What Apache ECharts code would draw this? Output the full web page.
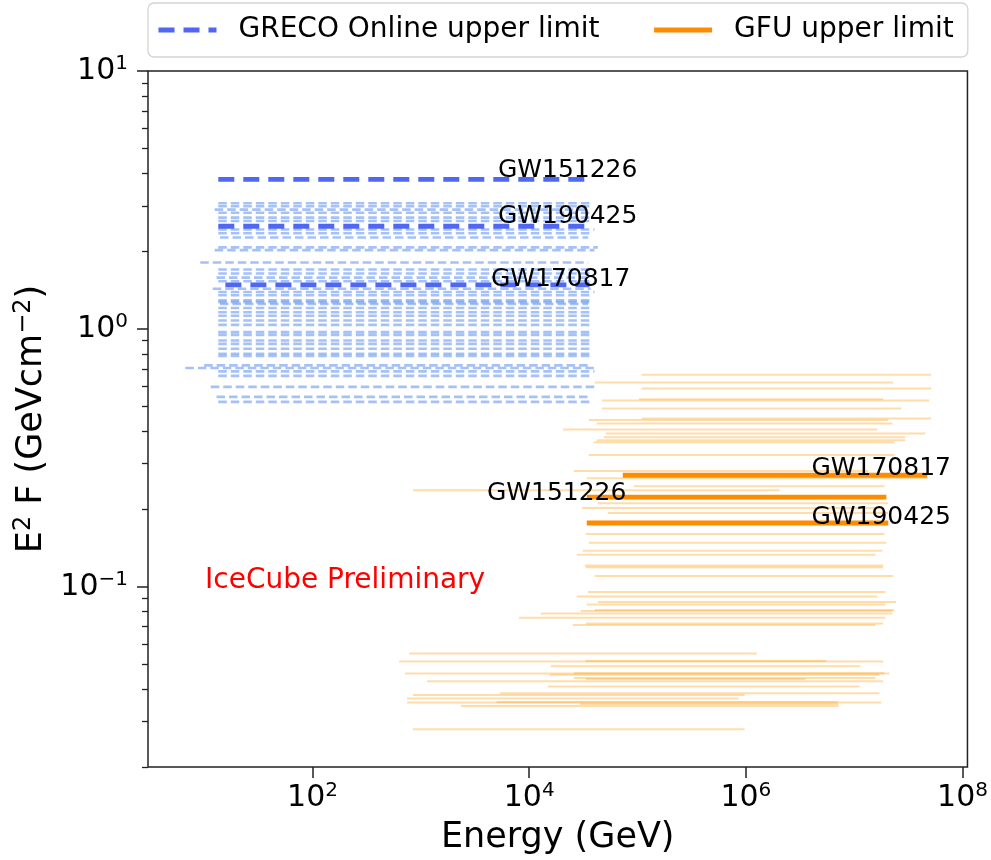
<!DOCTYPE html>
<html>
<head>
<meta charset="utf-8">
<script src="https://cdn.jsdelivr.net/npm/echarts@6/dist/echarts.min.js"></script>
<style>
  html, body { margin: 0; padding: 0; background: #ffffff; }
  #chart { width: 991px; height: 860px; }
</style>
</head>
<body>
<div id="chart"></div>
<script>
// Axis ranges and tick values
const energyRange = [3.03, 1.11e8];
const fluxRange = [0.02, 10];
const energyTicks = [1e2, 1e4, 1e6, 1e8];
const fluxTicks = [0.1, 1, 10];
const fluxMinorTicks = [0.02, 0.03, 0.04, 0.05, 0.06, 0.07, 0.08, 0.09,
                        0.2, 0.3, 0.4, 0.5, 0.6, 0.7, 0.8, 0.9,
                        2, 3, 4, 5, 6, 7, 8, 9];

// GRECO Online upper limits, one row per event: [E²F, Emin (GeV), Emax (GeV)]
const grecoRows = [
  [3.07, 13.5, 36000], [2.99, 13.5, 38000], [2.90, 12.5, 36000], [2.82, 13.5, 36000],
  [2.70, 13.5, 37000], [2.62, 13.5, 36000], [2.43, 13.5, 40000], [2.35, 13.5, 36000],
  [2.26, 14, 35000], [2.07, 13.5, 43000], [2.02, 12.5, 40000], [1.81, 9.2, 35000],
  [1.70, 13.5, 36000], [1.64, 13.5, 38000], [1.58, 13, 36000], [1.53, 13.5, 36000],
  [1.43, 12, 37000], [1.39, 13.5, 40000], [1.35, 13.5, 36000], [1.29, 13.5, 38000],
  [1.27, 13.5, 36000], [1.25, 14, 35000], [1.205, 13.5, 36000], [1.16, 13.5, 37000],
  [1.125, 13.5, 36000], [1.077, 13.5, 36000], [1.036, 13.5, 38000], [0.971, 13.5, 36000],
  [0.948, 13.5, 36000], [0.901, 13.5, 37000], [0.875, 13.5, 36000], [0.837, 13.5, 36000],
  [0.801, 13.5, 38000], [0.785, 13.5, 36000], [0.722, 10, 36000], [0.705, 6.7, 43000],
  [0.684, 13.5, 40000], [0.657, 13.5, 36000], [0.596, 11.5, 40000], [0.545, 13, 36000],
  [0.521, 13.5, 36000]
];

// GFU upper limits, one row per event: [E²F, Emin (GeV), Emax (GeV)]
const gfuRows = [
  [0.664, 1.09e5, 5.13e7], [0.619, 4.03e4, 2.29e7], [0.587, 1.09e5, 5.13e7], [0.533, 1.03e5, 1.85e7],
  [0.527, 4.68e4, 4.92e7], [0.491, 4.68e4, 2.72e7], [0.449, 1.09e5, 5.13e7], [0.443, 3.55e4, 2.06e7],
  [0.430, 4.20e4, 2.25e7], [0.407, 2.05e4, 1.63e7], [0.393, 5.09e4, 4.52e7], [0.380, 4.88e4, 2.96e7],
  [0.370, 4.20e4, 2.96e7], [0.363, 3.94e4, 2.34e7], [0.324, 3.55e4, 2.34e7], [0.281, 2.58e4, 1.35e7],
  [0.2635, 3.40e4, 4.72e7], [0.2455, 9.23e4, 1.90e7], [0.2368, 847, 2.05e6], [0.211, 4.30e4, 2.06e7],
  [0.2018, 3.06e4, 1.90e7], [0.193, 5.31e4, 2.06e7], [0.160, 3.33e4, 1.90e7], [0.148, 3.55e4, 1.98e7],
  [0.138, 3.12e4, 1.82e7], [0.133, 2.75e4, 1.57e7], [0.121, 3.26e4, 1.85e7], [0.119, 3.33e4, 1.85e7],
  [0.110, 4.03e4, 2.29e7], [0.0954, 3.48e4, 1.94e7], [0.0917, 2.75e4, 1.63e7], [0.0873, 4.30e4, 2.44e7],
  [0.0854, 3.40e4, 1.94e7], [0.0813, 4.03e4, 2.34e7], [0.0806, 2.99e4, 2.25e7], [0.0788, 1.28e4, 2.25e7],
  [0.0759, 8.04e3, 1.94e7], [0.0720, 3.33e4, 1.85e7], [0.0711, 2.53e4, 1.57e7],
  [0.0551, 779, 1.26e6], [0.0513, 630, 1.85e7], [0.0515, 3.3e4, 5.5e6], [0.0492, 1.58e4, 1.14e7],
  [0.0461, 715, 2.11e7], [0.0462, 2.6e4, 1.9e7], [0.0456, 1.55e4, 1.71e7], [0.0443, 2.58e4, 1.57e7],
  [0.0439, 3.33e4, 3.55e6], [0.0430, 1140, 1.85e7], [0.0410, 1.49e4, 1.12e7], [0.0386, 5370, 1.71e7],
  [0.0380, 847, 9.73e5], [0.0369, 746, 8.57e5], [0.0356, 746, 1.78e7], [0.0357, 5000, 7.0e6],
  [0.0351, 2.93e4, 7.15e6], [0.0345, 2340, 7.15e6], [0.0280, 847, 9.73e5]
];

// Highlighted gravitational-wave events
const grecoEventNames = ['GW151226', 'GW190425', 'GW170817'];
const grecoEventFlux = [3.8, 2.5, 1.48];
const grecoEventEmin = [13.5, 13.5, 15.7];
const grecoEventEmax = [36000, 36000, 36000];
const grecoLabelE = [5140, 5140, 4430];
const grecoLabelFlux = [4.11, 2.73, 1.56];

const gfuEventNames = ['GW170817', 'GW151226', 'GW190425'];
const gfuEventFlux = [0.2706, 0.2226, 0.1767];
const gfuEventEmin = [7.31e4, 3.4e4, 3.4e4];
const gfuEventEmax = [4.72e7, 1.98e7, 2.06e7];
const gfuLabelE = [4.03e6, 4070, 4.03e6];
const gfuLabelFlux = [0.288, 0.2307, 0.186];

const GRECO_NAME = 'GRECO Online upper limit';
const GFU_NAME = 'GFU upper limit';
const GRECO_COLOR = '#4f67f2';
const GFU_COLOR = '#ff8c00';
const FONT = 'DejaVu Sans';

const series = [];

grecoRows.forEach(function (r) {
  series.push({
    type: 'line', silent: true, symbol: 'none', z: 2,
    data: [[r[1], r[0]], [r[2], r[0]]],
    lineStyle: { color: '#6495ED', width: 2.6, type: [8.5, 4], opacity: 0.58 }
  });
});

gfuRows.forEach(function (r) {
  series.push({
    type: 'line', silent: true, symbol: 'none', z: 2,
    data: [[r[1], r[0]], [r[2], r[0]]],
    lineStyle: { color: '#ffa31a', width: 2, opacity: 0.37 }
  });
});

grecoEventNames.forEach(function (n, i) {
  series.push({
    name: GRECO_NAME, type: 'line', symbol: 'none', z: 3,
    data: [[grecoEventEmin[i], grecoEventFlux[i]], [grecoEventEmax[i], grecoEventFlux[i]]],
    itemStyle: { color: GRECO_COLOR },
    lineStyle: { color: GRECO_COLOR, width: 4.8, type: [16, 9] }
  });
});

gfuEventNames.forEach(function (n, i) {
  series.push({
    name: GFU_NAME, type: 'line', symbol: 'none', z: 3,
    data: [[gfuEventEmin[i], gfuEventFlux[i]], [gfuEventEmax[i], gfuEventFlux[i]]],
    itemStyle: { color: GFU_COLOR },
    lineStyle: { color: GFU_COLOR, width: 4.8 }
  });
});

// Event name labels placed in data coordinates
const labelData = [];
grecoEventNames.forEach(function (n, i) { labelData.push([grecoLabelE[i], grecoLabelFlux[i], n]); });
gfuEventNames.forEach(function (n, i) { labelData.push([gfuLabelE[i], gfuLabelFlux[i], n]); });
series.push({
  type: 'scatter', silent: true, symbolSize: 0, z: 5,
  itemStyle: { opacity: 1 },
  data: labelData,
  label: {
    show: true, position: 'right', distance: 0,
    formatter: function (p) { return p.data[2]; },
    fontFamily: FONT, fontSize: 25, color: '#000000', opacity: 1
  }
});

function powerLabel(v) {
  const e = Math.round(Math.log10(v));
  return '{b|10}{s|' + String(e).replace('-', '\u2212') + '}';
}
const tickRich = {
  b: { fontFamily: FONT, fontSize: 30, lineHeight: 34, color: '#000' },
  s: { fontFamily: FONT, fontSize: 20, lineHeight: 20, verticalAlign: 'top', color: '#000' }
};

const option = {
  animation: false,
  backgroundColor: '#ffffff',
  textStyle: { fontFamily: FONT },
  grid: {
    left: 148, right: 23, top: 71, bottom: 90,
    show: true, borderColor: '#222222', borderWidth: 1.5, backgroundColor: 'transparent'
  },
  legend: {
    data: [
      { name: GRECO_NAME, itemStyle: { opacity: 0 },
        lineStyle: { color: GRECO_COLOR, width: 5, type: [16, 9], opacity: 1 } },
      { name: GFU_NAME, itemStyle: { opacity: 0 },
        lineStyle: { color: GFU_COLOR, width: 5, type: 'solid', opacity: 1 } }
    ],
    left: 148, top: 3,
    padding: [13, 14, 13, 8],
    itemWidth: 58, itemHeight: 28, itemGap: 52,
    borderColor: '#d4d4d4', borderWidth: 1.3, borderRadius: 6,
    backgroundColor: '#ffffff',
    selectedMode: false,
    textStyle: { fontFamily: FONT, fontSize: 28, color: '#000', padding: [0, 0, 0, 17] }
  },
  xAxis: {
    type: 'log', min: energyRange[0], max: energyRange[1],
    name: 'Energy (GeV)', nameLocation: 'middle', nameGap: 53,
    nameTextStyle: { fontFamily: FONT, fontSize: 35, color: '#000' },
    axisLine: { show: false },
    splitLine: { show: false },
    minorTick: { show: false },
    axisTick: { show: true, length: 11, customValues: energyTicks,
                lineStyle: { color: '#222', width: 1.5 } },
    axisLabel: { show: true, margin: 14, customValues: energyTicks,
                 formatter: powerLabel, rich: tickRich }
  },
  yAxis: [
    {
      type: 'log', min: fluxRange[0], max: fluxRange[1],
      name: '{b|E}{s|2}{b| F (GeVcm}{s|\u22122}{b|)}',
      nameLocation: 'middle', nameGap: 91, nameRotate: 90,
      nameTextStyle: {
        fontFamily: FONT, fontSize: 35, color: '#000',
        rich: {
          b: { fontFamily: FONT, fontSize: 35, lineHeight: 40, color: '#000' },
          s: { fontFamily: FONT, fontSize: 24, lineHeight: 24, verticalAlign: 'top', color: '#000' }
        }
      },
      axisLine: { show: false },
      splitLine: { show: false },
      axisTick: { show: true, length: 11, customValues: fluxTicks,
                  lineStyle: { color: '#222', width: 1.5 } },
      axisLabel: { show: true, margin: 20, customValues: fluxTicks,
                   formatter: powerLabel, rich: tickRich }
    },
    {
      type: 'log', min: fluxRange[0], max: fluxRange[1], position: 'left',
      axisLine: { show: false },
      splitLine: { show: false },
      axisLabel: { show: false },
      axisTick: { show: true, length: 6, customValues: fluxMinorTicks,
                  lineStyle: { color: '#222', width: 1.3 } }
    }
  ],
  graphic: [{
    type: 'text', left: 205, top: 567, silent: true,
    style: { text: 'IceCube Preliminary', fill: '#ff0000', font: '28px "DejaVu Sans"' }
  }],
  series: series
};

const chart = echarts.init(document.getElementById('chart'));
chart.setOption(option);
</script>
</body>
</html>
